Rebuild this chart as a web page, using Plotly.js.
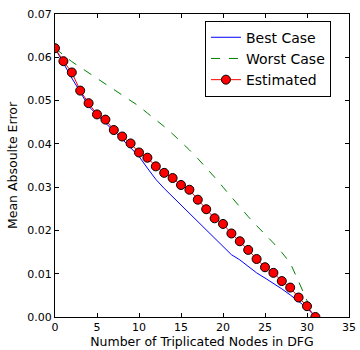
<!DOCTYPE html>
<html>
<head>
<meta charset="utf-8">
<script src="https://cdn.plot.ly/plotly-3.0.1.min.js"></script>
<style>html,body{margin:0;padding:0;background:#fff;}#chart{width:360px;height:350px;}</style>
</head>
<body>
<div id="chart"></div>
<script>
var nodes = [0,1,2,3,4,5,6,7,8,9,10,11,12,13,14,15,16,17,18,19,20,21,22,23,24,25,26,27,28,29,30,31];
var bestCase = [0.0621,0.0585,0.0552,0.0520,0.0487,0.0467,0.0449,0.0430,0.0411,0.0391,0.0371,0.0344,0.0318,0.0297,0.0278,0.0259,0.0240,0.0220,0.0201,0.0181,0.0162,0.0144,0.0132,0.0117,0.0102,0.0090,0.0078,0.0065,0.0051,0.0036,0.0021,0.0];
var worstCase = [0.0621,0.0605,0.0590,0.0577,0.0564,0.0551,0.0539,0.0526,0.0514,0.0500,0.0487,0.0471,0.0456,0.0440,0.0423,0.0405,0.0386,0.0366,0.0345,0.0323,0.0300,0.0277,0.0254,0.0232,0.0211,0.0192,0.0171,0.0149,0.0125,0.0082,0.0038,0.0];
var estimated = [0.0621,0.0591,0.0565,0.0523,0.0494,0.0468,0.0456,0.0432,0.0417,0.0401,0.0380,0.0368,0.0348,0.0333,0.0321,0.0305,0.0294,0.0271,0.0249,0.0228,0.0215,0.0193,0.0175,0.0155,0.0134,0.0115,0.0102,0.0083,0.0068,0.0045,0.0025,0.0];
var seriesNames = ["Best Case","Worst Case","Estimated"];
var xTitle = "Number of Triplicated Nodes in DFG";
var yTitle = "Mean Absoulte Error";

var font = "DejaVu Sans, sans-serif";
var traces = [
  {x: nodes, y: bestCase, name: seriesNames[0], mode: "lines", type: "scatter",
   line: {color: "#0000ff", width: 1}},
  {x: nodes, y: worstCase, name: seriesNames[1], mode: "lines", type: "scatter",
   line: {color: "#008000", width: 1, dash: "dash"}},
  {x: nodes, y: estimated, name: seriesNames[2], mode: "lines+markers", type: "scatter",
   line: {color: "#ff0000", width: 1},
   marker: {color: "#ff0000", size: 9, line: {color: "#000000", width: 1}}}
];
var axisCommon = {
  showline: true, linecolor: "#000", linewidth: 1, mirror: "allticks",
  ticks: "inside", ticklen: 4, tickwidth: 1, tickcolor: "#000",
  showgrid: false, zeroline: false,
  tickfont: {family: font, size: 11, color: "#000"}
};
var layout = {
  width: 360, height: 350,
  margin: {l: 55, r: 11, t: 14, b: 33},
  paper_bgcolor: "#fff", plot_bgcolor: "#fff",
  showlegend: true,
  xaxis: Object.assign({}, axisCommon, {
    range: [0, 35], dtick: 5, tick0: 0,
    title: {text: xTitle, font: {family: font, size: 12.5, color: "#000"}, standoff: 1}
  }),
  yaxis: Object.assign({}, axisCommon, {
    range: [0, 0.07], dtick: 0.01, tick0: 0, tickformat: ".2f",
    title: {text: yTitle, font: {family: font, size: 12.5, color: "#000"}, standoff: 6}
  }),
  legend: {
    x: 0.51, y: 0.978, xanchor: "left", yanchor: "top",
    bordercolor: "#000", borderwidth: 1, bgcolor: "#fff",
    itemwidth: 30,
    font: {family: font, size: 14, color: "#000"}
  }
};
Plotly.newPlot("chart", traces, layout, {displayModeBar: false, staticPlot: true});
</script>
</body>
</html>
